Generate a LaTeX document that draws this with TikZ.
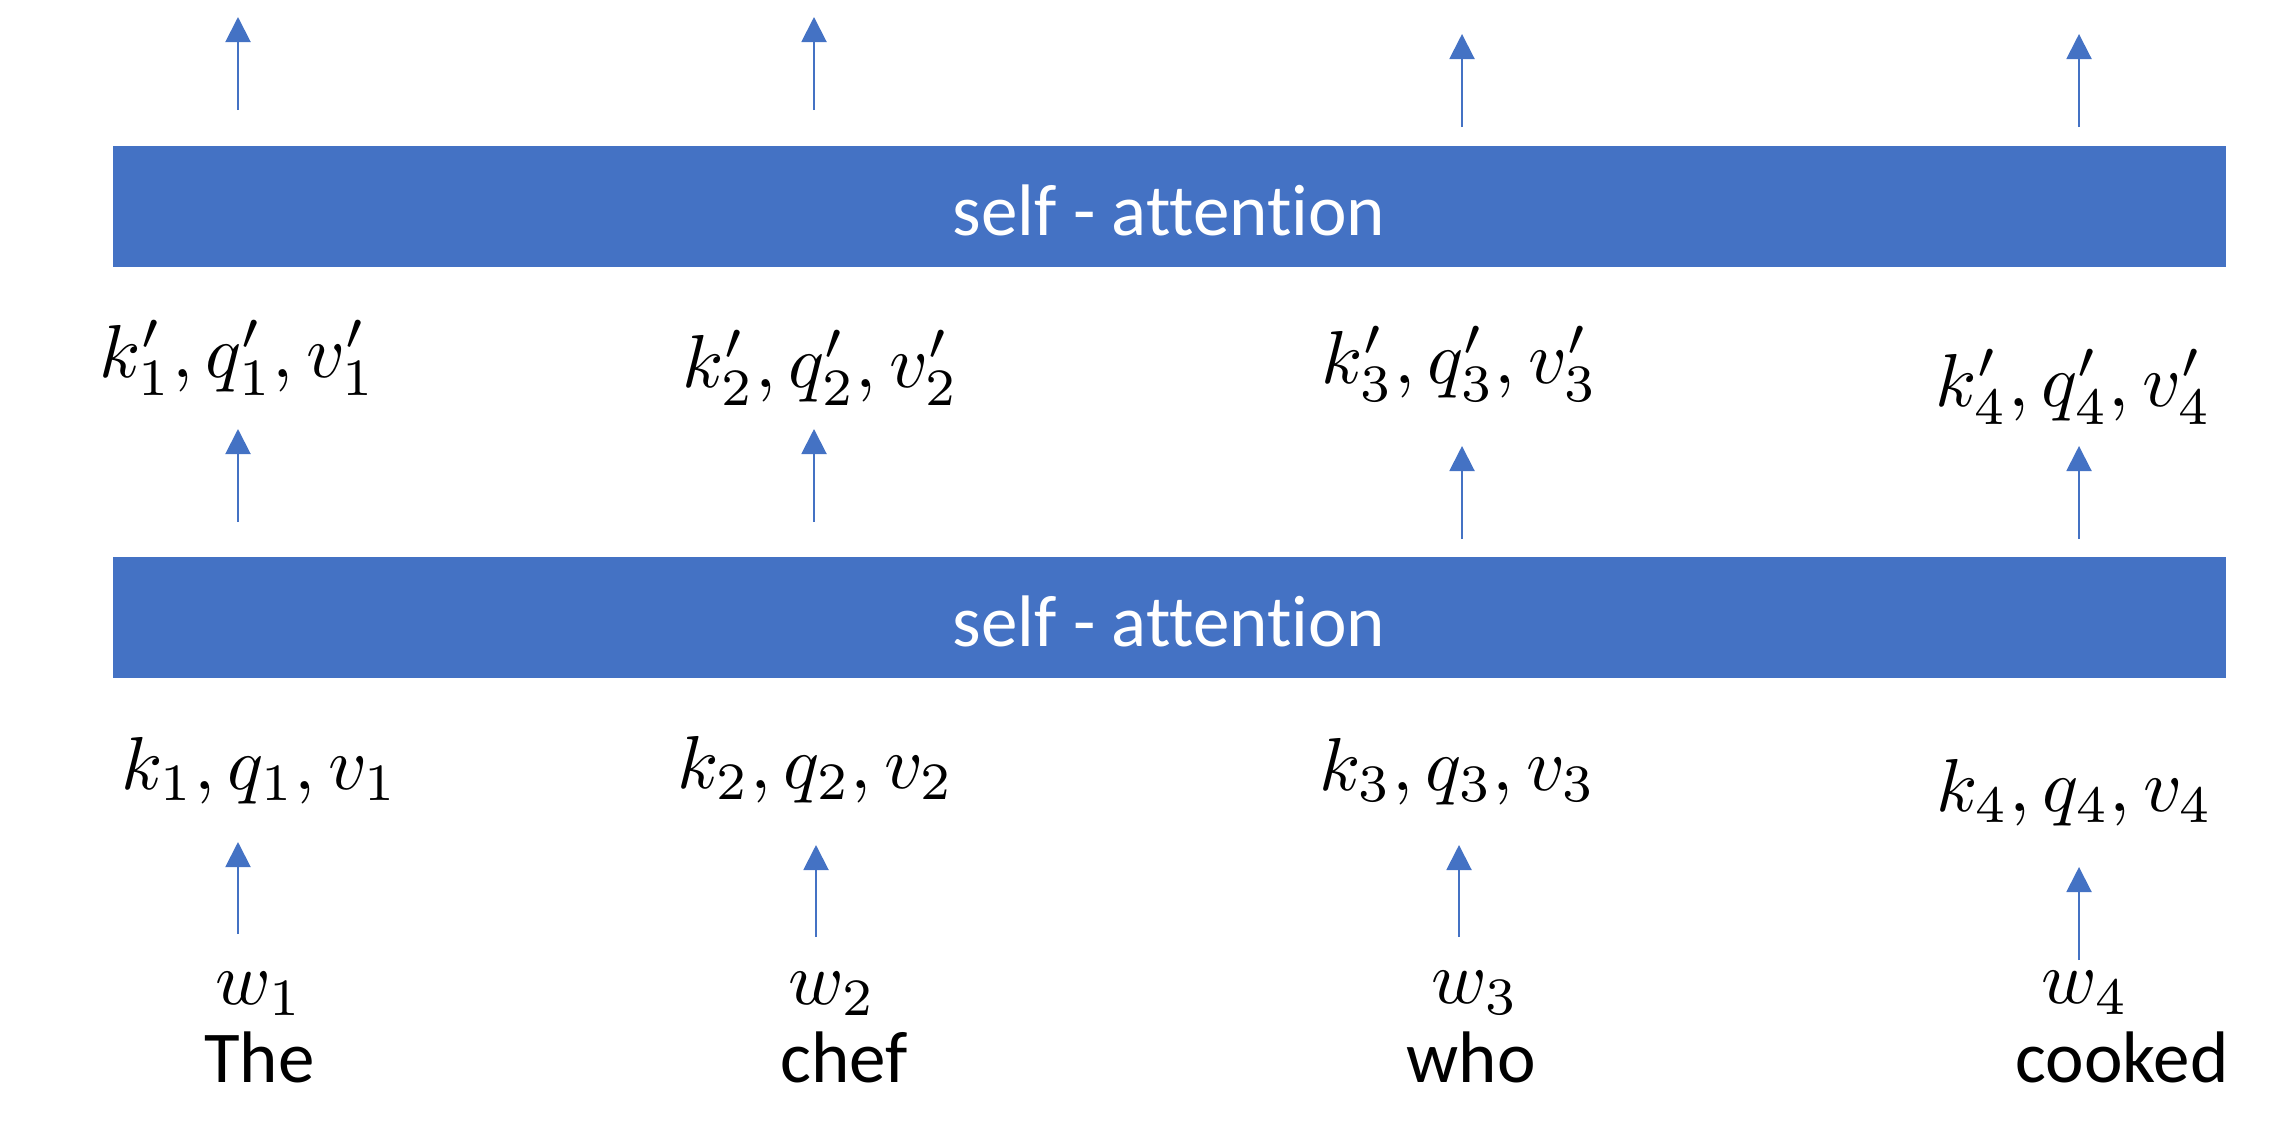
\documentclass[tikz,border=0pt]{standalone}
\usepackage{graphicx}
\usepackage{fontspec}
\setmainfont{Carlito}[Ligatures=NoCommon]
\usetikzlibrary{arrows.meta}
\definecolor{obl}{HTML}{4472C4}
\newcommand{\bigmath}[1]{\scalebox{7.5}{$#1$}}
\tikzset{
  barbox/.style={fill=obl, draw=none, inner sep=0pt, minimum width=2113pt, minimum height=121pt},
  bartext/.style={text=white, font=\fontsize{73}{88}\selectfont, anchor=base, inner sep=0pt},
  mlab/.style={anchor=base, inner sep=0pt},
  word/.style={font=\fontsize{73}{88}\selectfont, anchor=base, inner sep=0pt},
  uparrow/.style={draw=obl, line width=2pt, -{Triangle[width=25pt,length=25pt]}},
}
\begin{document}
\begin{tikzpicture}[x=1pt,y=-1pt]
\useasboundingbox (0,0) rectangle (2292,1144);
% bars
\node[barbox] (sa2) at (1169.5,206.5) {};
\node[bartext] (sa2t) at (1169,235) {self - attention};
\node[barbox] (sa1) at (1169.5,617.5) {};
\node[bartext] (sa1t) at (1169,646) {self - attention};
% primed labels
\node[mlab] (kp1) at (238,377) {\bigmath{k'_1, q'_1, v'_1}};
\node[mlab] (kp2) at (821,387) {\bigmath{k'_2, q'_2, v'_2}};
\node[mlab] (kp3) at (1460,383) {\bigmath{k'_3, q'_3, v'_3}};
\node[mlab] (kp4) at (2074,406) {\bigmath{k'_4, q'_4, v'_4}};
% unprimed labels
\node[mlab] (k1) at (260,789) {\bigmath{k_1, q_1, v_1}};
\node[mlab] (k2) at (816,788) {\bigmath{k_2, q_2, v_2}};
\node[mlab] (k3) at (1458,790) {\bigmath{k_3, q_3, v_3}};
\node[mlab] (k4) at (2075,811) {\bigmath{k_4, q_4, v_4}};
% w labels
\node[mlab] (w1) at (259,1004) {\bigmath{w_1}};
\node[mlab] (w2) at (832,1004) {\bigmath{w_2}};
\node[mlab] (w3) at (1475,1003) {\bigmath{w_3}};
\node[mlab] (w4) at (2085,1003) {\bigmath{w_4}};
% words
\node[word] (t1) at (259.5,1082) {The};
\node[word] (t2) at (844,1082) {chef};
\node[word] (t3) at (1471,1082) {who};
\node[word] (t4) at (2122,1082) {cooked};
% arrow end points
\coordinate (a1s) at (238,110);  \coordinate (a1e) at (238,17);
\coordinate (a2s) at (814,110);  \coordinate (a2e) at (814,17);
\coordinate (a3s) at (1462,127); \coordinate (a3e) at (1462,34);
\coordinate (a4s) at (2079,127); \coordinate (a4e) at (2079,34);
\coordinate (b1s) at (238,522);  \coordinate (b1e) at (238,429);
\coordinate (b2s) at (814,522);  \coordinate (b2e) at (814,429);
\coordinate (b3s) at (1462,539); \coordinate (b3e) at (1462,446);
\coordinate (b4s) at (2079,539); \coordinate (b4e) at (2079,446);
\coordinate (c1s) at (238,934);  \coordinate (c1e) at (238,842);
\coordinate (c2s) at (816,937);  \coordinate (c2e) at (816,845);
\coordinate (c3s) at (1459,937); \coordinate (c3e) at (1459,845);
\coordinate (c4s) at (2079,960); \coordinate (c4e) at (2079,867);
\foreach \r in {a,b,c}{
  \foreach \i in {1,2,3,4}{
    \draw[uparrow] (\r\i s) -- (\r\i e);
  }
}
\end{tikzpicture}
\end{document}
